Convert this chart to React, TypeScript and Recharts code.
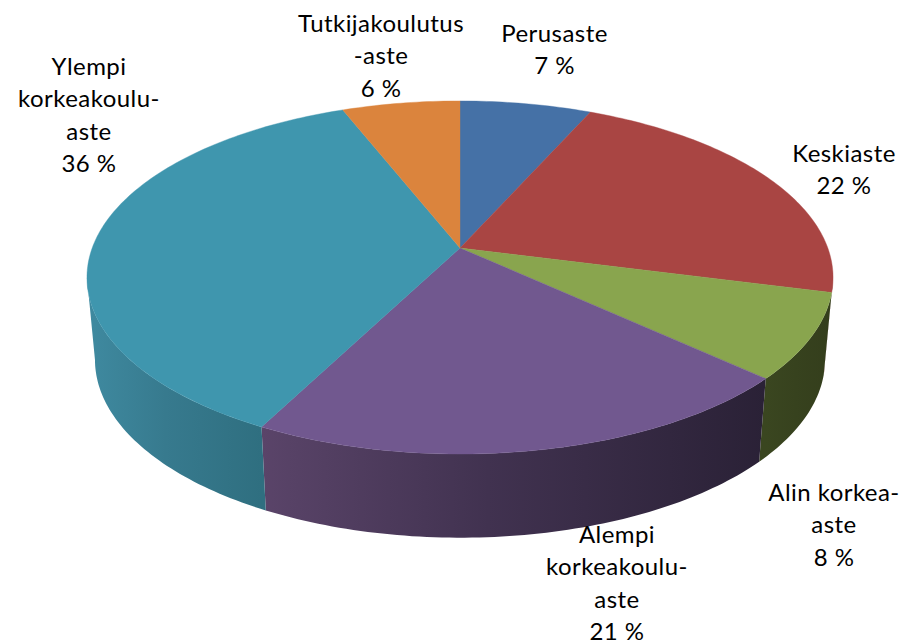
import React from 'react';
import { PieChart, Pie } from 'recharts';

// ---- data
const categories = ['Perusaste', 'Keskiaste', 'Alin korkea-\naste', 'Alempi\nkorkeakoulu-\naste', 'Ylempi\nkorkeakoulu-\naste', 'Tutkijakoulutus\n-aste'];
const shares = [6.7, 22.3, 7.8, 20.8, 36.4, 6.0];

// ---- styles
const topColors = ['#4571a6', '#a94543', '#89a54e', '#71588f', '#3f96ae', '#db843d'];
const wallLeft = ['#345480', '#6e2c2b', '#3a4620', '#5a4469', '#3f8aa0', '#8f5628'];
const wallMid = ['#345480', '#6e2c2b', '#37421e', '#413250', '#377a8e', '#8f5628'];
const wallRight = ['#345480', '#6e2c2b', '#343e1c', '#2a2136', '#2f6f80', '#8f5628'];

// ---- projection of the tilted disc
const PERSP = 0.167;
const TOP_Y_SCALE = 171.6 / 367.8;
const BASE_X_SCALE = 359.9 / 367.8;
const BASE_Y_SCALE = 173 / 367.8;
const BASE_DROP = 82;
const FRONT_FROM = 99.6;
const FRONT_TO = 260.4;

const rad = (d: number) => (d * Math.PI) / 180;

function project(theta: number, cx: number, cy: number, r: number, base: boolean) {
  const X = Math.sin(rad(theta));
  const Y = Math.cos(rad(theta));
  const w = 1 + PERSP * Y;
  const ax = base ? r * BASE_X_SCALE : r;
  const by = base ? r * BASE_Y_SCALE : r * TOP_Y_SCALE;
  return { x: cx + (ax * X) / w, y: cy + (base ? BASE_DROP : 0) - (by * Y) / w };
}

function rim(t1: number, t2: number, cx: number, cy: number, r: number, base: boolean) {
  const pts: string[] = [];
  const n = Math.max(2, Math.ceil(Math.abs(t2 - t1)));
  for (let i = 0; i <= n; i++) {
    const p = project(t1 + ((t2 - t1) * i) / n, cx, cy, r, base);
    pts.push(`${p.x.toFixed(2)} ${p.y.toFixed(2)}`);
  }
  return pts;
}

function Slice3D(props: any) {
  const { cx, cy, outerRadius, startAngle, endAngle } = props;
  const name = props.payload?.name ?? props.name;
  const i = categories.indexOf(name);
  const a = 90 - startAngle;
  const b = 90 - endAngle;
  const t1 = Math.min(a, b);
  const t2 = Math.max(a, b);
  const top = `M${cx} ${cy}L${rim(t1, t2, cx, cy, outerRadius, false).join('L')}Z`;
  const w1 = Math.max(t1, FRONT_FROM);
  const w2 = Math.min(t2, FRONT_TO);
  let wall = '';
  if (w2 > w1) {
    const upper = rim(w1, w2, cx, cy, outerRadius, false);
    const lower = rim(w2, w1, cx, cy, outerRadius, true);
    wall = `M${upper.join('L')}L${lower.join('L')}Z`;
  }
  const gid = `wall-${i}`;
  const p1 = project(w1, cx, cy, outerRadius, false);
  const p2 = project(w2, cx, cy, outerRadius, false);
  return (
    <g>
      <defs>
        <linearGradient id={gid} gradientUnits="userSpaceOnUse" x1={Math.min(p1.x, p2.x)} y1={0} x2={Math.max(p1.x, p2.x)} y2={0}>
          <stop offset="0%" stopColor={wallLeft[i]} />
          <stop offset="45%" stopColor={wallMid[i]} />
          <stop offset="100%" stopColor={wallRight[i]} />
        </linearGradient>
      </defs>
      {wall && <path d={wall} fill={`url(#${gid})`} stroke="none" />}
      <path d={top} fill={topColors[i]} stroke={topColors[i]} strokeWidth={0.4} />
    </g>
  );
}

// label block centres (x, y of the first line)
const labelAnchors = [
  [554.5, 31.5],
  [844, 151.5],
  [834, 490.5],
  [617, 532.5],
  [89, 64.5],
  [381, 21.5],
];
const LINE_H = 32.6;

function SliceLabel(props: any) {
  const name = props.payload?.name ?? props.name;
  const i = categories.indexOf(name);
  const lines = [...String(name).split('\n'), `${Math.round(props.value)} %`];
  const [x, y] = labelAnchors[i];
  return (
    <text x={x} y={y} textAnchor="middle" fontFamily="Lato, Carlito, sans-serif" fontSize={24} letterSpacing={0.45} fill="#000" dominantBaseline="central">
      {lines.map((l, k) => (
        <tspan key={k} x={x} y={y + k * LINE_H} dominantBaseline="central">{l}</tspan>
      ))}
    </text>
  );
}

const table = categories.map((name, k) => ({ name, value: shares[k] }));

export default function App() {
  return (
    <div style={{ position: 'absolute', left: 0, top: 0, width: 914, height: 641, overflow: 'hidden', background: '#fff' }}>
      <PieChart width={914} height={641} margin={{ top: 0, right: 0, bottom: 0, left: 0 }}>
        <Pie
          data={table}
          dataKey="value"
          nameKey="name"
          cx={460}
          cy={248}
          innerRadius={0}
          outerRadius={367.8}
          startAngle={90}
          endAngle={-270}
          isAnimationActive={false}
          shape={Slice3D as any}
          label={SliceLabel as any}
          labelLine={false}
        />
      </PieChart>
    </div>
  );
}
